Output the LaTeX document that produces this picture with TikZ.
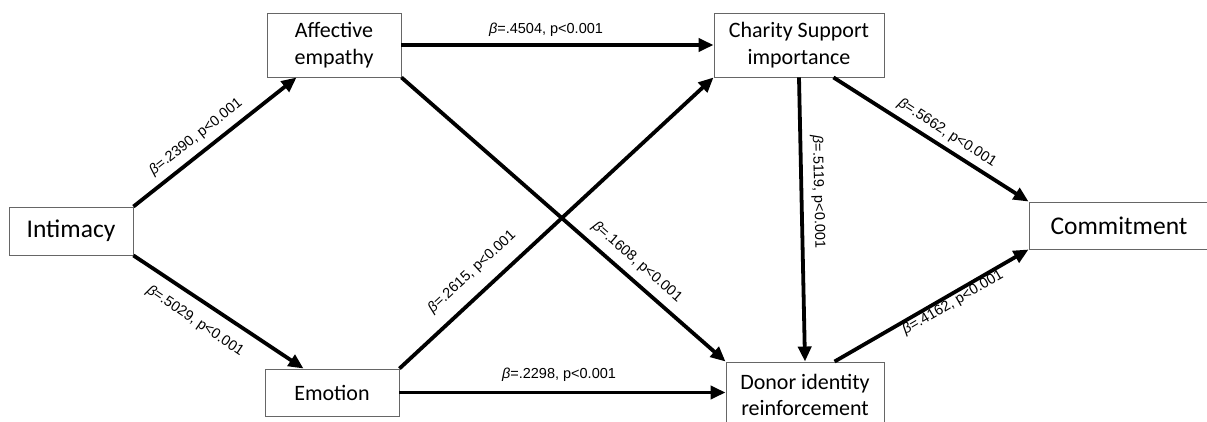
\documentclass[tikz,border=0pt]{standalone}
\usepackage{fontspec}
\setmainfont{Carlito}
\newfontfamily\labfont{Liberation Sans}
\usetikzlibrary{arrows.meta,calc}
\begin{document}
\begin{tikzpicture}[x=1pt,y=-1pt,
  box/.style={draw=black!60, line width=0.9pt, fill=white, inner sep=0pt, align=center, font=\fontsize{22}{26.5}\selectfont},
  bigbox/.style={box, font=\fontsize{25.5}{30}\selectfont},
  arr/.style={line width=3.8pt, -{Triangle[length=15pt,width=13pt]}},
  lab/.style={inner sep=0pt, font=\labfont\fontsize{14.5}{17}\selectfont}]
\useasboundingbox (0,0) rectangle (1207,422);
\clip (0,0) rectangle (1207,422);
\fill[white] (0,0) rectangle (1207,422);
% boxes
\node[bigbox, minimum width=124pt, minimum height=48pt] (I) at (71,231) {Intimacy};
\node[box, minimum width=134pt, minimum height=64pt] (A) at (334,45) {Affective\\empathy};
\node[box, minimum width=134pt, minimum height=47pt] (E) at (332,392.5) {Emotion};
\node[box, minimum width=170pt, minimum height=64pt] (C) at (799,45) {Charity Support\\importance};
\node[box, minimum width=158pt, minimum height=66pt] (D) at (805,395) {Donor identity\\reinforcement};
\node[bigbox, minimum width=180pt, minimum height=47pt] (Co) at (1119,225.5) {Commitment};
% arrows
\draw[arr] (I.north east) -- ($(A.south west)+(30,0)$);
\draw[arr] (I.south east) -- ($(E.north west)+(39,0)$);
\draw[arr] (A.east) -- (C.west);
\draw[arr] (A.south east) -- (D.north west);
\draw[arr] (E.north east) -- (C.south west);
\draw[arr] (E.east) -- (E.east -| D.west);
\draw[arr] (C.south) -- (D.north);
\draw[arr] ($(C.south east)+(-51,0)$) -- (Co.north west);
\draw[arr] ($(D.north west)+(109,0)$) -- (Co.south west);
% labels
\node[lab, rotate=38.4] (l1) at (196,137) {{\itshape β}=.2390, p<0.001};
\node[lab, rotate=-34.2] (l2) at (195,321) {{\itshape β}=.5029, p<0.001};
\node[lab] (l3) at (546,30) {{\itshape β}=.4504, p<0.001};
\node[lab] (l4) at (559,375) {{\itshape β}=.2298, p<0.001};
\node[lab, rotate=42.8] (l5) at (472,272) {{\itshape β}=.2615, p<0.001};
\node[lab, rotate=-41.2] (l6) at (637,262) {{\itshape β}=.1608, p<0.001};
\node[lab, rotate=-88.6] (l7) at (818,192) {{\itshape β}=.5119, p<0.001};
\node[lab, rotate=-32.9] (l8) at (947,133) {{\itshape β}=.5662, p<0.001};
\node[lab, rotate=30.3] (l9) at (953,303) {{\itshape β}=.4162, p<0.001};
\end{tikzpicture}
\end{document}
